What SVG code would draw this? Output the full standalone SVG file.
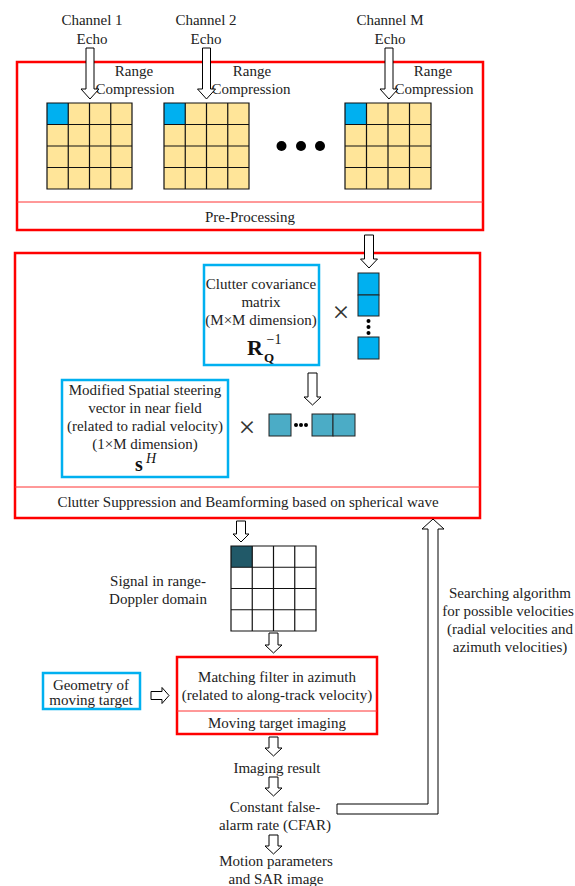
<svg xmlns="http://www.w3.org/2000/svg" width="575" height="886" viewBox="0 0 575 886">
<style>
text{font-family:"Liberation Serif","Times New Roman",serif;font-size:15px;fill:#222;text-anchor:middle}
.red{fill:none;stroke:#FF0000;stroke-width:2.5}
.div{stroke:#FF3333;stroke-width:1}
.blue{fill:#fff;stroke:#00B0F0;stroke-width:2.5}
.arr{fill:#fff;stroke:#000;stroke-width:1}
.yl{fill:#FFE599}
.cb{fill:#00B0F0;stroke:#222;stroke-width:1}
.ct{fill:#4BACC6;stroke:#222;stroke-width:1}
.gl{stroke:#111;stroke-width:1.2;fill:none}
.mul{font-size:30px;fill:#333}
.dot{fill:#000}
</style>

<g id="preprocessing">
  <rect class="red" x="17" y="62" width="466" height="168"/>
  <line class="div" x1="17" y1="202" x2="483" y2="202"/>
  <text x="250" y="222">Pre-Processing</text>
</g>

<g id="channel1">
  <text x="92" y="25">Channel 1</text>
  <text x="92" y="44">Echo</text>
  <text x="134" y="76">Range</text>
  <text x="135" y="94">Compression</text>
  <g id="grid1">
    <rect class="yl" x="47" y="103" width="85" height="86"/>
    <rect fill="#00B0F0" x="47" y="103" width="21.25" height="21.5"/>
    <path class="gl" d="M47,103H132V189H47Z M68.25,103V189 M89.5,103V189 M110.75,103V189 M47,124.5H132 M47,146H132 M47,167.5H132"/>
  </g>
</g>

<g id="channel2">
  <text x="206" y="25">Channel 2</text>
  <text x="206" y="44">Echo</text>
  <text x="252" y="76">Range</text>
  <text x="251" y="94">Compression</text>
  <g id="grid2">
    <rect class="yl" x="164" y="103" width="85" height="86"/>
    <rect fill="#00B0F0" x="164" y="103" width="21.25" height="21.5"/>
    <path class="gl" d="M164,103H249V189H164Z M185.25,103V189 M206.5,103V189 M227.75,103V189 M164,124.5H249 M164,146H249 M164,167.5H249"/>
  </g>
</g>

<g id="ellipsis">
  <circle class="dot" cx="281.5" cy="146" r="5"/>
  <circle class="dot" cx="301" cy="146" r="5"/>
  <circle class="dot" cx="320" cy="146" r="5"/>
</g>

<g id="channelM">
  <text x="390" y="25">Channel M</text>
  <text x="390" y="44">Echo</text>
  <text x="433" y="76">Range</text>
  <text x="434" y="94">Compression</text>
  <g id="gridM">
    <rect class="yl" x="345" y="103" width="86" height="86"/>
    <rect fill="#00B0F0" x="345" y="103" width="21.5" height="21.5"/>
    <path class="gl" d="M345,103H431V189H345Z M366.5,103V189 M388,103V189 M409.5,103V189 M345,124.5H431 M345,146H431 M345,167.5H431"/>
  </g>
</g>

<g id="clutter-suppression">
  <rect class="red" x="15" y="253" width="465" height="265"/>
  <line class="div" x1="15" y1="487" x2="480" y2="487"/>
  <text x="248" y="507">Clutter Suppression and Beamforming based on spherical wave</text>
</g>

<g id="covariance">
  <rect class="blue" x="204" y="265" width="115" height="100"/>
  <text x="261" y="289">Clutter covariance</text>
  <text x="261" y="307">matrix</text>
  <text x="261" y="325">(M×M dimension)</text>
  <text x="255" y="355" style="font-size:22px;font-weight:bold;fill:#111">R</text>
  <text x="269" y="362" style="font-size:13px;font-weight:bold;fill:#111">Q</text>
  <text x="274" y="344" style="font-size:14px;fill:#111">−1</text>
</g>

<g id="column-vector">
  <text class="mul" x="341" y="322">×</text>
  <rect class="cb" x="358" y="273" width="21" height="22"/>
  <rect class="cb" x="358" y="295" width="21" height="21"/>
  <circle class="dot" cx="368.5" cy="321" r="2"/>
  <circle class="dot" cx="368.5" cy="327" r="2"/>
  <circle class="dot" cx="368.5" cy="333" r="2"/>
  <rect class="cb" x="358" y="337" width="21" height="22"/>
</g>

<g id="steering">
  <rect class="blue" x="62" y="380" width="166" height="97"/>
  <text x="145" y="395">Modified Spatial steering</text>
  <text x="145" y="413">vector in near field</text>
  <text x="145" y="431">(related to radial velocity)</text>
  <text x="145" y="449">(1×M dimension)</text>
  <text x="139" y="471" style="font-size:20px;font-weight:bold;fill:#111">s</text>
  <text x="151" y="463" style="font-size:14px;font-style:italic;fill:#111">H</text>
</g>

<g id="row-vector">
  <text class="mul" x="247" y="437">×</text>
  <rect class="ct" x="269" y="414" width="22" height="22"/>
  <circle class="dot" cx="296" cy="425" r="2"/>
  <circle class="dot" cx="301" cy="425" r="2"/>
  <circle class="dot" cx="306" cy="425" r="2"/>
  <rect class="ct" x="312" y="414" width="21" height="22"/>
  <rect class="ct" x="333" y="414" width="22" height="22"/>
</g>

<g id="range-doppler">
  <text x="158" y="586">Signal in range-</text>
  <text x="158" y="604">Doppler domain</text>
  <rect fill="#fff" x="231" y="546" width="85" height="85"/>
  <rect fill="#215968" x="231" y="546" width="21.25" height="21.25"/>
  <path class="gl" d="M231,546H316V631H231Z M252.25,546V631 M273.5,546V631 M294.75,546V631 M231,567.25H316 M231,588.5H316 M231,609.75H316"/>
</g>

<g id="moving-target-imaging">
  <rect class="red" x="177" y="657" width="200" height="77"/>
  <line class="div" x1="177" y1="711" x2="377" y2="711"/>
  <text x="277" y="682">Matching filter in azimuth</text>
  <text x="277" y="700">(related to along-track velocity)</text>
  <text x="277" y="728">Moving target imaging</text>
</g>

<g id="geometry">
  <rect class="blue" x="43" y="673" width="97" height="36"/>
  <text x="91" y="690">Geometry of</text>
  <text x="91" y="705">moving target</text>
</g>

<g id="imaging-result"><text x="277" y="773">Imaging result</text></g>
<g id="cfar">
  <text x="275" y="812">Constant false-</text>
  <text x="275" y="830">alarm rate (CFAR)</text>
</g>
<g id="output">
  <text x="276" y="866">Motion parameters</text>
  <text x="276" y="884">and SAR image</text>
</g>
<g id="search-label">
  <text x="510" y="598">Searching algorithm</text>
  <text x="508" y="616">for possible velocities</text>
  <text x="510" y="634">(radial velocities and</text>
  <text x="510" y="652">azimuth velocities)</text>
</g>

<g id="connectors">
  <path class="arr" d="M86,48H94V89H99L90,99L81,89H86Z"/>
  <path class="arr" d="M202.5,48H210.5V89H215.5L206.5,99L197.5,89H202.5Z"/>
  <path class="arr" d="M385,48H393V89H398L389,99L380,89H385Z"/>
  <path class="arr" d="M364.5,235H373.5V259H377.5L369,268L360.5,259H364.5Z"/>
  <path class="arr" d="M308,373H317V397H321L312.5,405L304,397H308Z"/>
  <path class="arr" d="M236.5,521H245.5V534H249L241,542L233,534H236.5Z"/>
  <path class="arr" d="M269,633H278V645H282L273.5,653L265,645H269Z"/>
  <path class="arr" d="M151,691.5H162V687.5L169,695.5L162,703.5V699.5H151Z"/>
  <path class="arr" d="M269,737H278V748H282L273.5,756L265,748H269Z"/>
  <path class="arr" d="M269,777H278V788H282L273.5,796L265,788H269Z"/>
  <path class="arr" d="M269,835H278V846H282L273.5,854L265,846H269Z"/>
  <path class="arr" d="M337,804H428V529H422L433,519L444,529H438V814H337Z"/>
</g>
</svg>
